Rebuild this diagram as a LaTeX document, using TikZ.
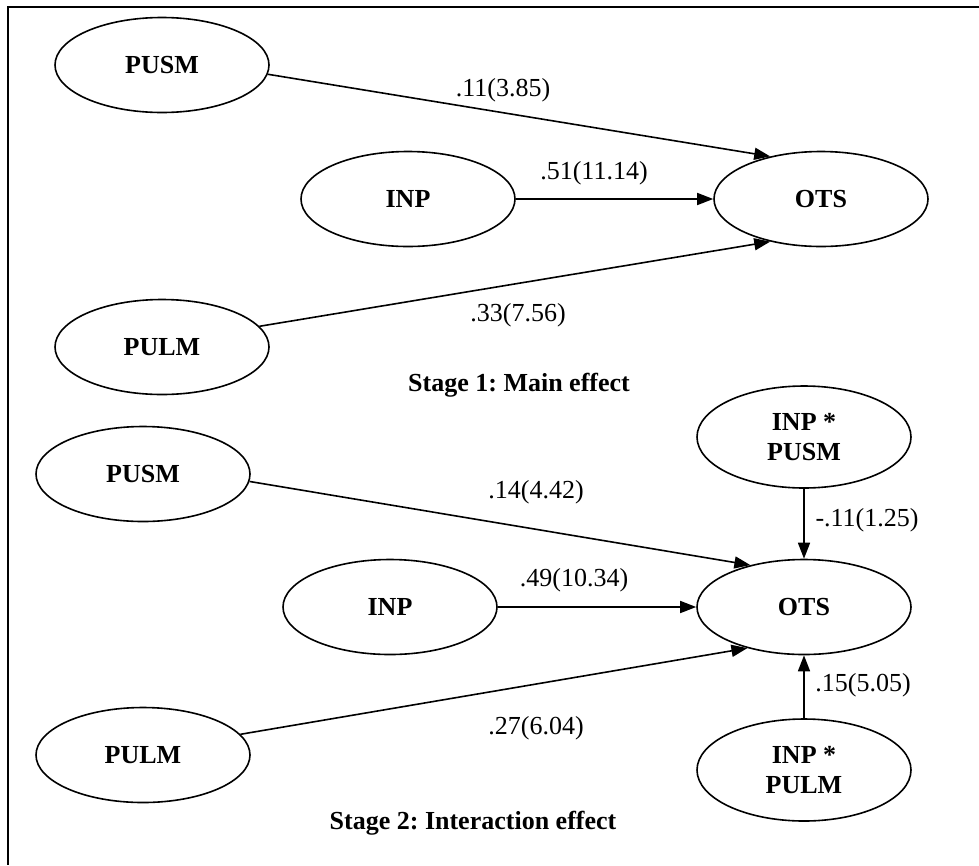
\documentclass[tikz,border=0pt]{standalone}
\usepackage{fontspec}
\setmainfont{Liberation Serif}
\usetikzlibrary{shapes.geometric,arrows.meta}
\begin{document}
\frenchspacing
\begin{tikzpicture}[x=1pt,y=-1pt,
  every node/.style={font=\fontsize{26}{30}\selectfont},
  var/.style={ellipse,draw,line width=1.6pt,minimum width=214pt,minimum height=95pt,inner sep=0pt,font=\fontsize{26}{30}\selectfont\bfseries,align=center},
  ivar/.style={var,minimum height=102pt},
  path/.style={line width=1.6pt,-{Triangle[length=16pt,width=12pt]}},
  coef/.style={inner sep=0pt,font=\fontsize{26}{30}\selectfont},
  stagelbl/.style={inner sep=0pt,font=\fontsize{26}{30}\selectfont\bfseries},
  frameline/.style={line width=2pt}]
\useasboundingbox (0,0) rectangle (979,865);
% frame (top and left edges visible)
\coordinate (fr1) at (979,7);
\coordinate (fr2) at (8,7);
\coordinate (fr3) at (8,865);
\draw[frameline] (fr1) -- (fr2) -- (fr3);

% Stage 1
\node[var] (pusmA) at (162,65) {PUSM};
\node[var] (inpA) at (408,199) {INP};
\node[var] (otsA) at (821,199) {OTS};
\node[var] (pulmA) at (162,347) {PULM};
\draw[path] (pusmA.-5) -- (otsA.140);
\draw[path] (inpA) -- (otsA);
\draw[path] (pulmA.12) -- (otsA.220);
\node[coef] (cA1) at (503,90) {.11(3.85)};
\node[coef] (cA2) at (594,173) {.51(11.14)};
\node[coef] (cA3) at (518,315) {.33(7.56)};
\node[stagelbl] (stage1) at (519,385) {Stage 1: Main effect};

% Stage 2
\node[var] (pusmB) at (143,474) {PUSM};
\node[var] (inpB) at (390,607) {INP};
\node[var] (otsB) at (804,607) {OTS};
\node[var] (pulmB) at (143,755) {PULM};
\node[ivar] (ixA) at (804,437) {INP *\\PUSM};
\node[ivar] (ixB) at (804,770) {INP *\\PULM};
\draw[path] (pusmB.-4) -- (otsB.142);
\draw[path] (inpB) -- (otsB);
\draw[path] (pulmB.12) -- (otsB.216);
\draw[path] (ixA) -- (otsB);
\draw[path] (ixB) -- (otsB);
\node[coef] (cB1) at (536,492) {.14(4.42)};
\node[coef] (cB2) at (867,520) {-.11(1.25)};
\node[coef] (cB3) at (574,580) {.49(10.34)};
\node[coef] (cB4) at (863,685) {.15(5.05)};
\node[coef] (cB5) at (536,728) {.27(6.04)};
\node[stagelbl] (stage2) at (473,823) {Stage 2: Interaction effect};
\end{tikzpicture}
\end{document}
